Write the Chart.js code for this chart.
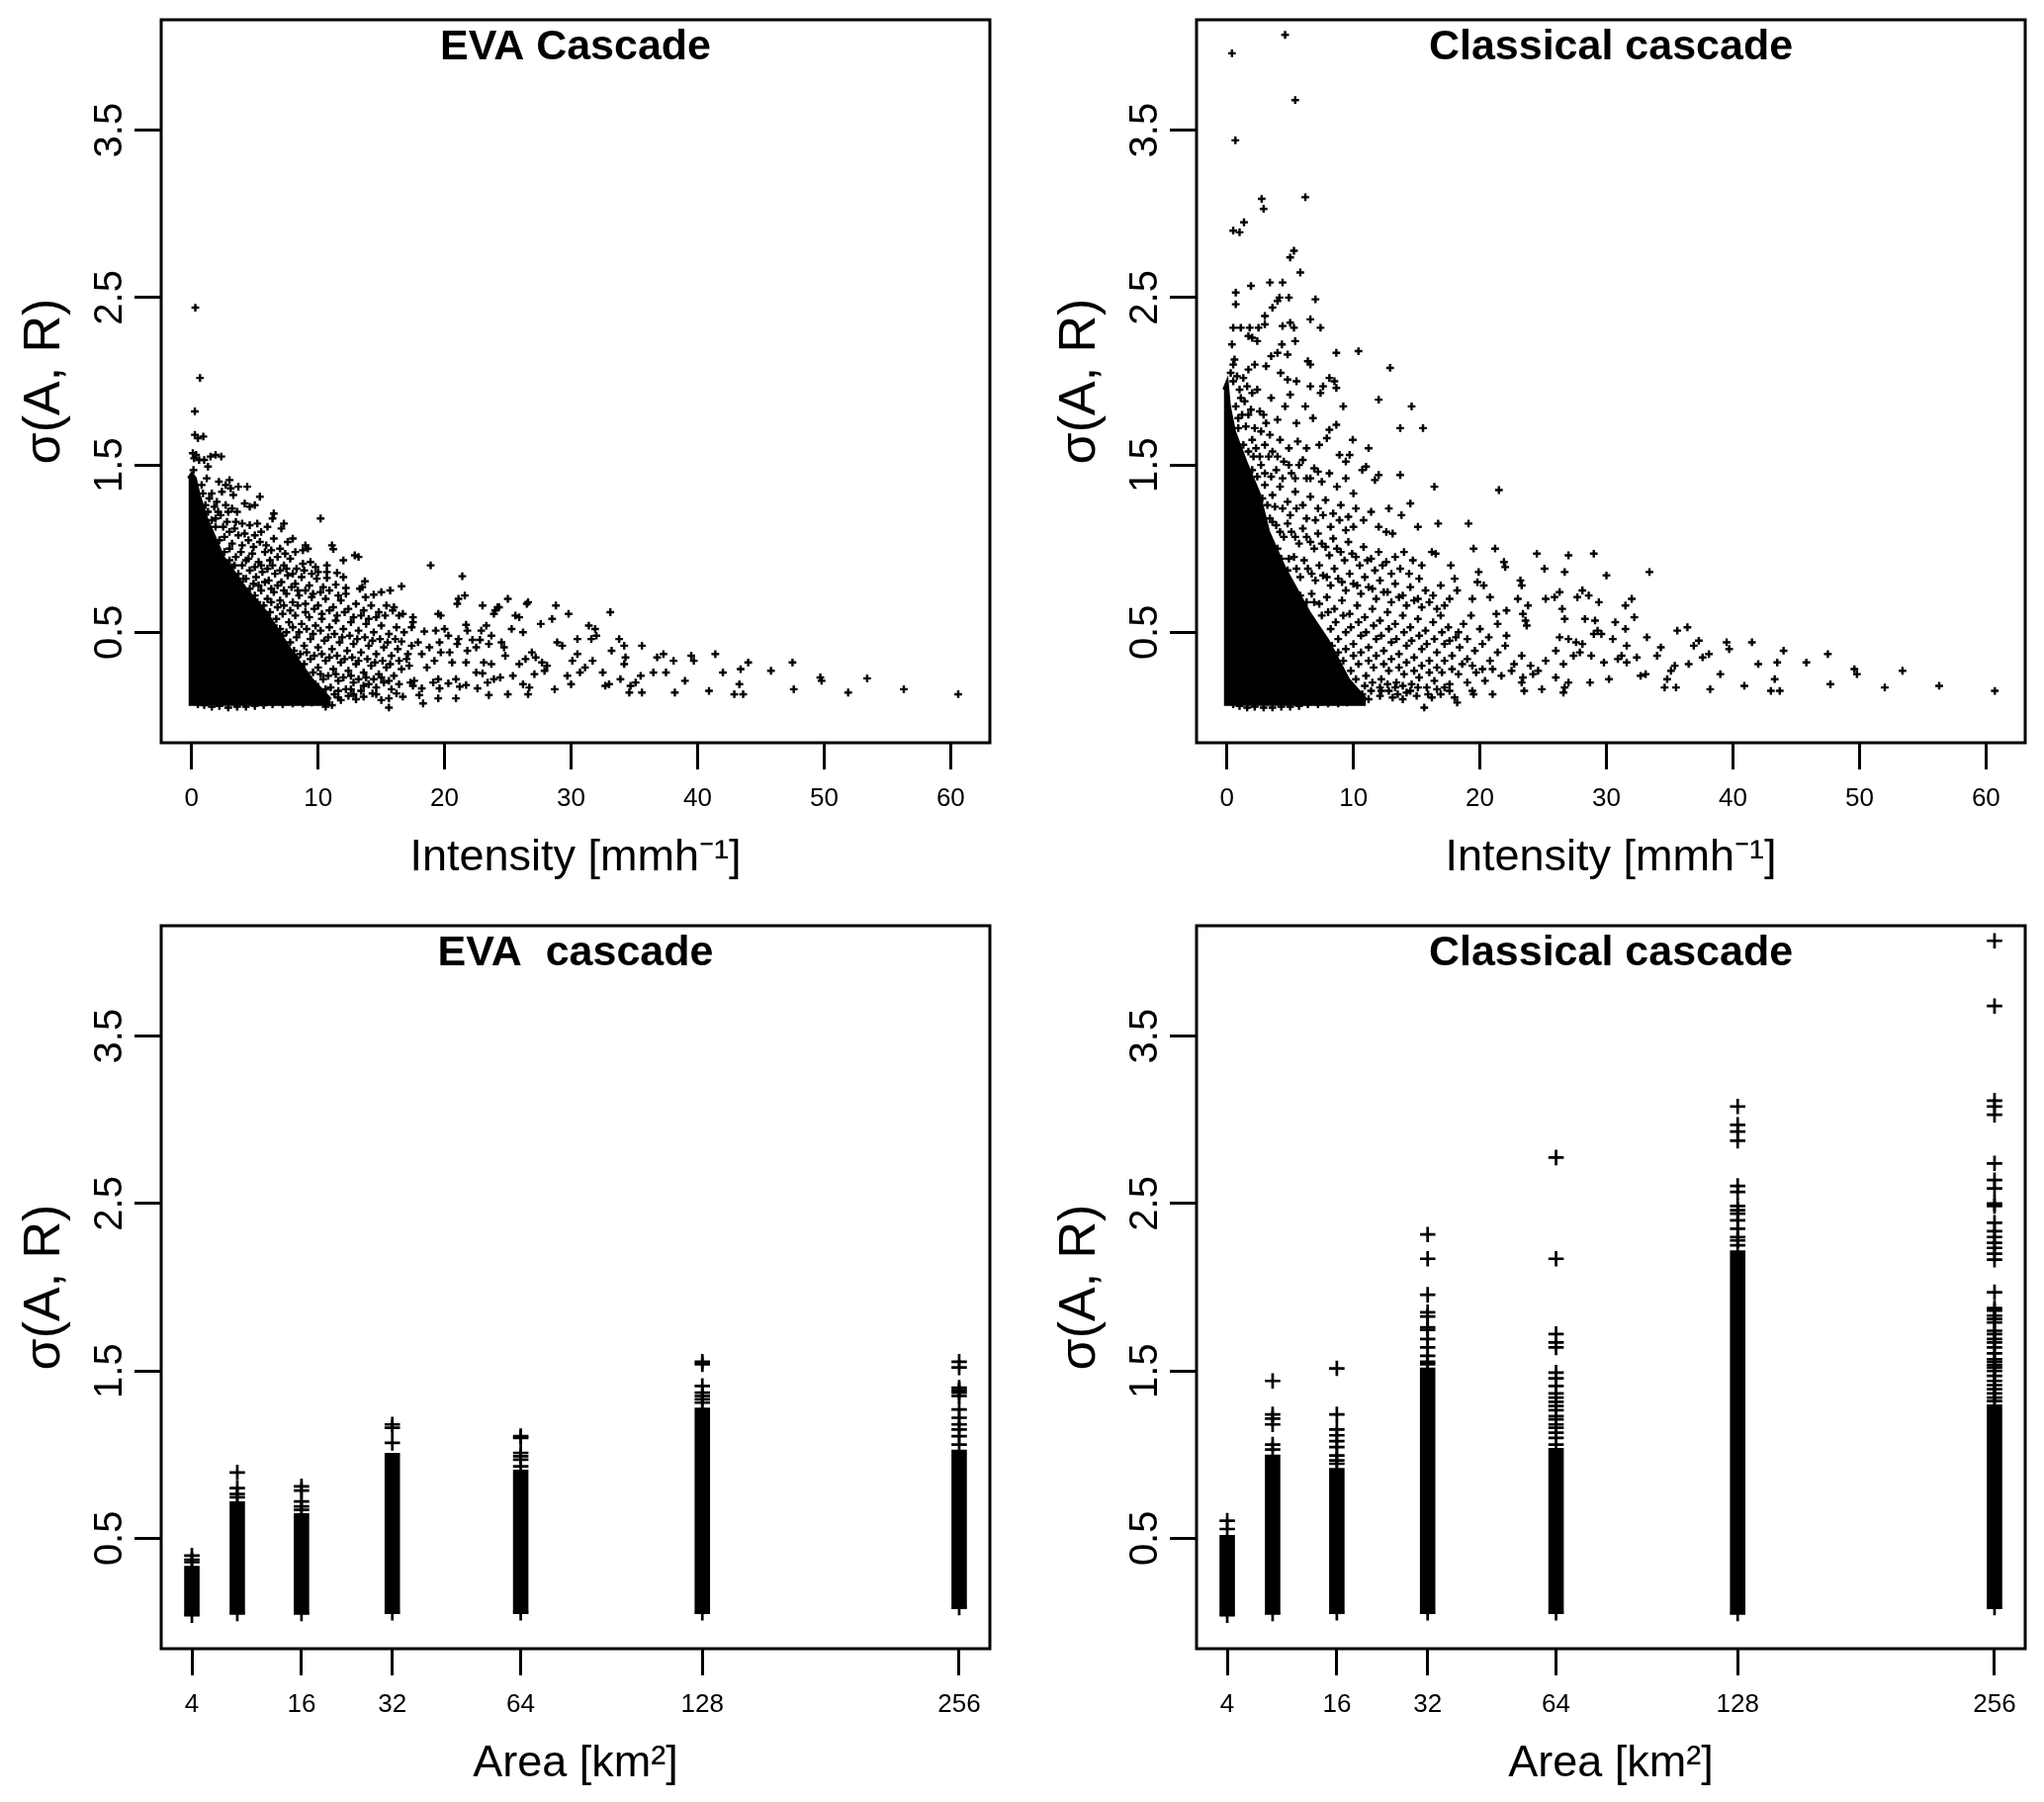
<!DOCTYPE html>
<html>
<head>
<meta charset="utf-8">
<title>sigma vs intensity and area</title>
<script src="https://cdn.jsdelivr.net/npm/chart.js@4"></script>
<style>
  body { margin: 0; background: #fff; }
  canvas { position: absolute; }
</style>
</head>
<body>
<canvas id="evaIntensity" width="1020" height="906" style="left:0;top:0"></canvas>
<canvas id="classicIntensity" width="1020" height="906" style="left:1047px;top:0"></canvas>
<canvas id="evaArea" width="1020" height="906" style="left:0;top:916px"></canvas>
<canvas id="classicArea" width="1020" height="906" style="left:1047px;top:916px"></canvas>
<script>
const sigmaTicks = [0.5, 1.5, 2.5, 3.5];
const intensityTicks = [0, 10, 20, 30, 40, 50, 60];
const areaTicks = [4, 16, 32, 64, 128, 256];
const areas = [4, 8, 16, 32, 64, 128, 256];

// outline of the part of the cloud that is fully overplotted
const evaCore = [[-0.25,1.42],[0.02,1.45],[0.3,1.42],[0.6,1.32],[1.2,1.18],[2.5,0.95],[4.3,0.76],[5.9,0.62],[7.7,0.41],[9.5,0.22],[11,0.1]];
const classicCore = [[-0.25,1.95],[0.02,2.0],[0.2,1.85],[0.6,1.7],[1.5,1.52],[2.55,1.33],[3.3,1.1],[4.6,0.88],[6.5,0.62],[8,0.45],[9.6,0.22],[11,0.1]];

const evaPoints = [
[0.3,2.44],[0.67,2.02],[0.26,1.82],[0.26,1.68],[0.5,1.66],[0.93,1.67],[0.1,1.57],[0.2,1.54],[0.36,1.56],[0.6,1.53],[1,1.53],[1.5,1.55],[1.9,1.56],[2.35,1.55],[1.3,1.49],[0.15,1.47],
[2.16,1.4],[3,1.41],[2.7,1.38],[3.1,1.36],[3.7,1.37],[4.4,1.37],[3.3,1.32],[5.4,1.31],[4.2,1.27],[4.6,1.25],[5,1.26],[2.7,1.26],[2.9,1.22],[1.4,1.3],[1.8,1.25],[2.1,1.22],[0.9,1.33],[1.1,1.26],
[6.5,1.21],[6.4,1.18],[10.2,1.18],[7.3,1.15],[7.1,1.12],[3.5,1.16],[4,1.15],[4.6,1.14],[5.2,1.15],[5.5,1.1],[6,1.13],[2.5,1.13],[3,1.1],[3.7,1.08],[4.5,1.05],[5,1.08],[6.5,1.06],[7.6,1.04],[8,1.06],[8.8,0.99],[9.2,1],[1.6,1.17],[1.9,1.13],[2.2,1.05],
[9,1.02],[11.1,1.02],[11.2,0.997],[12,0.93],[12.9,0.96],[13.2,0.95],[9.4,0.92],[9.8,0.89],[10.7,0.9],[10.7,0.86],[10.7,0.825],[11.5,0.855],[12,0.83],[13.7,0.805],[13.5,0.77],[13.3,0.76],[11.4,0.785],[12.2,0.765],[12.2,0.73],[16.6,0.775],[15.7,0.75],[15,0.74],[14.4,0.725],[13.75,0.71],
[18.9,0.9],[21.4,0.835],[21.6,0.72],[21.1,0.7],[21,0.67],[23,0.66],[24.2,0.65],[23.9,0.61],[15.4,0.66],[16,0.65],[15.9,0.63],[16.7,0.61],[16.4,0.6],[17.5,0.59],[17.5,0.56],[17.4,0.53],[19.5,0.61],[19.7,0.6],[18.4,0.505],[19.3,0.51],[20,0.52],[21.7,0.545],[21.8,0.51],[22.9,0.51],[23.3,0.54],[20.3,0.48],[21.1,0.46],[22.2,0.455],[22.8,0.455],[23.7,0.48],[23.5,0.43],[21,0.43],[19.6,0.44],[18.8,0.41],[16.6,0.445],[17.4,0.42],[17.1,0.37],[18.2,0.37],[19.7,0.38],[20.4,0.38],[21.8,0.39],[20.6,0.32],[21.7,0.32],[23.1,0.32],[23.7,0.31],[22.5,0.41],[19.5,0.22],[19.6,0.165],[19.5,0.105],[20.9,0.105],[18.2,0.165],[18.3,0.075],[15.6,0.05],[18,0.125],[22.6,0.165],[23.5,0.125],[23.9,0.22],[23.4,0.2],[24.4,0.23],[20.3,0.195],[20.9,0.22],[21.2,0.175],[21.7,0.185],[22.5,0.26],[23,0.255],[19.1,0.2],[17.3,0.2],[17.6,0.21],[17.5,0.18],[16.2,0.135],[16.7,0.115],[15.6,0.105],[15,0.095],[14.3,0.135],[13.6,0.115],[13,0.1],[11.8,0.095],[11.1,0.065],[10.6,0.055],[10,0.095],
[2.6,0.98],[3,1],[3.5,0.95],[3.9,0.98],[4.3,0.93],[4.8,0.97],[5.3,0.92],[5.8,0.98],[6.2,0.93],[6.8,0.95],[7.3,0.9],[7.8,0.94],[8.3,0.88],[8.8,0.91],[3.2,0.89],[3.7,0.85],[4.1,0.82],[4.6,0.87],[5.1,0.83],[5.6,0.86],[6.1,0.81],[6.6,0.85],[7.1,0.8],[7.6,0.84],[8.2,0.79],[8.7,0.83],[9.3,0.78],[9.9,0.82],[10.4,0.77],
[4.6,0.76],[5,0.72],[5.5,0.75],[6,0.7],[6.5,0.74],[7,0.69],[7.5,0.73],[8,0.68],[8.5,0.72],[9,0.67],[9.5,0.71],[10,0.66],[10.6,0.7],[11.2,0.65],[11.8,0.69],[12.4,0.64],[13,0.67],[13.6,0.63],[14.2,0.66],[14.8,0.62],
[6.2,0.62],[6.7,0.58],[7.2,0.61],[7.7,0.56],[8.2,0.6],[8.7,0.55],[9.3,0.59],[9.8,0.54],[10.3,0.58],[10.9,0.53],[11.4,0.57],[12,0.52],[12.6,0.56],[13.2,0.51],[13.8,0.55],[14.4,0.5],[15,0.54],[15.6,0.49],[16.2,0.53],[16.8,0.5],
[7.2,0.48],[7.8,0.44],[8.3,0.47],[8.9,0.42],[9.4,0.46],[10,0.41],[10.5,0.45],[11.1,0.4],[11.7,0.44],[12.3,0.39],[12.8,0.43],[13.4,0.38],[14,0.42],[14.6,0.37],[15.2,0.41],[15.8,0.36],[16.3,0.4],[17.9,0.44],
[8.3,0.35],[8.9,0.31],[9.4,0.34],[10,0.29],[10.6,0.33],[11.2,0.28],[11.8,0.32],[12.4,0.27],[13,0.31],[13.6,0.26],[14.2,0.3],[14.8,0.25],[15.4,0.29],[16,0.24],[16.6,0.28],[17.2,0.3],[18.6,0.29],[19.2,0.33],
[9.2,0.23],[9.8,0.19],[10.4,0.22],[11,0.17],[11.6,0.21],[12.2,0.16],[12.8,0.2],[13.4,0.15],[14,0.19],[14.6,0.17],[15.2,0.2],[15.8,0.16],[16.4,0.19],[10.2,0.13],[9.4,0.11],[12.4,0.12],[11.3,0.13],
[0.2,0.09],[0.5,0.07],[1,0.065],[1.6,0.055],[2.2,0.06],[2.9,0.05],[3.6,0.055],[4.3,0.055],[5,0.06],[5.7,0.065],[6.4,0.07],[7.2,0.07],[8,0.075],[8.8,0.075],[9.5,0.08],
[24.7,0.41],[25,0.7],[25.3,0.52],[25.6,0.6],[25.9,0.59],[25.9,0.31],[26.2,0.5],[26.5,0.67],[26.6,0.68],[26.4,0.34],[26.7,0.17],[26.6,0.13],[26.9,0.38],[27.2,0.35],[27.6,0.55],[27.7,0.32],[28.1,0.3],[28.5,0.58],[28.7,0.16],[28.8,0.66],[28.9,0.44],[29.3,0.42],[24,0.63],[24.3,0.65],[25,0.13],[24.5,0.44],[24.8,0.36],[25.4,0.24],[26.2,0.19],[27.1,0.25],[27.9,0.27],[29.8,0.61],[29.7,0.24],[30.1,0.33],[30.5,0.46],[30.5,0.37],[30.7,0.26],[30,0.19],[31.1,0.29],[31.4,0.54],[31.6,0.46],[31.7,0.33],[31.9,0.52],[32,0.48],[32.5,0.26],[32.7,0.18],[33,0.19],[33.1,0.62],[33.2,0.39],[33.8,0.46],[33.9,0.22],[34.2,0.42],[34.3,0.35],[34.2,0.31],[34.6,0.14],[34.7,0.18],[35.1,0.2],[35.5,0.24],[35.6,0.42],[35.6,0.14],[36.5,0.26],[36.8,0.35],[37.3,0.37],[37.5,0.26],[38.1,0.33],[38.2,0.14],[39,0.21],[39.5,0.36],[39.7,0.33],[40.9,0.15],[41.4,0.37],[42,0.26],[42.9,0.13],[43.3,0.19],[43.4,0.28],[43.6,0.13],[44,0.32],[45.8,0.27],[47.5,0.32],[47.6,0.16],[49.7,0.23],[49.8,0.21],[51.9,0.14],[53.4,0.225],[56.3,0.16],[60.6,0.13]
];

// extra marks where the cloud is close to solid
const evaDense = [
[0.8,1.38],[1.2,1.42],[1.6,1.33],[2,1.28],[2.4,1.34],[1.3,1.22],[1.9,1.18],[2.3,1.2],[2.8,1.16],[3.2,1.24],[3.6,1.22],
[2.6,1.07],[3.2,1.03],[3.4,1.12],[4,1.02],[4.2,1.09],[4.9,1.01],[5.4,1.04],[5.9,1.02],[6.3,0.99],[7,1],[7.4,0.97],[8.2,0.98],
[3,0.93],[3.4,0.9],[4,0.9],[4.5,0.94],[5,0.89],[5.5,0.9],[6,0.88],[6.4,0.9],[7,0.87],[7.5,0.88],[8,0.85],[8.9,0.87],[9.5,0.85],[10,0.86],
[3.9,0.78],[4.3,0.82],[4.9,0.79],[5.3,0.78],[5.8,0.8],[6.3,0.76],[6.8,0.78],[7.3,0.75],[7.9,0.77],[8.4,0.75],[9,0.75],[9.6,0.73],[10.2,0.74],[10.9,0.75],[11.6,0.72],
[5.2,0.68],[5.7,0.66],[6.3,0.68],[6.8,0.65],[7.3,0.66],[7.8,0.63],[8.4,0.66],[9,0.62],[9.7,0.64],[10.3,0.61],[10.9,0.63],[11.5,0.6],[12.1,0.62],[12.8,0.59],[13.4,0.6],[14,0.58],[14.6,0.59],[15.3,0.6],
[6.5,0.54],[7,0.52],[7.5,0.5],[8,0.53],[8.5,0.5],[9.1,0.52],[9.6,0.49],[10.2,0.51],[10.8,0.47],[11.3,0.49],[11.9,0.47],[12.5,0.48],[13.1,0.46],[13.7,0.47],[14.3,0.45],[14.9,0.46],[15.5,0.44],[16.1,0.46],
[7.6,0.38],[8.1,0.39],[8.6,0.37],[9.1,0.38],[9.7,0.36],[10.3,0.37],[10.9,0.35],[11.5,0.36],[12.1,0.34],[12.7,0.35],[13.2,0.33],[13.9,0.34],[14.5,0.32],[15.1,0.33],[15.7,0.31],[16.4,0.33],[17,0.34],
[8.6,0.27],[9,0.25],[9.6,0.26],[10.2,0.25],[10.8,0.24],[11.4,0.25],[12,0.23],[12.6,0.24],[13.2,0.22],[13.8,0.23],[14.4,0.22],[15,0.23],[15.6,0.21],[9.8,0.14],[10.6,0.16],[11.6,0.15],[12.8,0.13],[13.6,0.18],[14.6,0.13],[10.6,0.1],[11.6,0.11],[12.6,0.16]
];

const classicPoints = [
[4.6,4.07],[0.4,3.96],[5.4,3.68],[0.67,3.44],[2.75,3.09],[2.9,3.03],[6.2,3.1],[1.35,2.95],[0.5,2.9],[1,2.89],[5.3,2.78],[5,2.74],[5.8,2.65],[1.9,2.57],[3.4,2.59],[4.4,2.59],[0.7,2.53],[7,2.49],[4.9,2.5],[4.15,2.5],[4,2.48],[3.6,2.44],[0.7,2.46],[3,2.39],[6.6,2.37],[5,2.35],[4.4,2.33],[7.4,2.32],[5.3,2.32],[5.4,2.24],[0.5,2.32],[1.1,2.32],[1.8,2.32],[2.5,2.32],[3,2.34],[1.7,2.27],[2,2.26],[2.4,2.24],[0.4,2.22],[4.35,2.22],[4,2.17],[4.8,2.16],[8.65,2.17],[10.4,2.18],[12.9,2.08],[6.4,2.12],[6.6,2.1],[0.5,2.1],[0.6,2.13],[1.7,2.07],[2.2,2.1],[3.5,2.15],[3.1,2.09],[4.25,2.05],[4.8,2.01],[5.5,2],[8.1,2.02],[8.5,2],[8.65,1.96],[7.6,1.97],[7.4,1.93],[6.6,1.97],[12,1.89],[9.2,1.85],[14.6,1.85],[13.7,1.72],[15.5,1.72],
[8.65,1.74],[8.1,1.71],[7.9,1.66],[9.95,1.65],[11.2,1.6],[8.9,1.56],[9.7,1.56],[9.4,1.52],[11,1.49],[10.7,1.47],[12,1.44],[11.7,1.41],[13.7,1.44],[16.4,1.37],[21.5,1.35],[14.5,1.27],[12.8,1.24],[13.8,1.2],[16.7,1.15],[19.1,1.15],[15.1,1.13],[13.1,1.09],[19.5,1],[21.2,1],[24.5,0.97],[27,0.96],[29,0.97],[21.9,0.92],[22,0.89],[17.7,0.9],[16.2,0.98],[16.5,0.97],[25.1,0.88],[26.7,0.86],[30,0.84],[33.4,0.86],[19.9,0.86],[19.8,0.8],[23.2,0.81],[23.3,0.78],[20.3,0.78],[26.3,0.74],[25.9,0.71],[25.2,0.7],[28.1,0.75],[27.7,0.71],[28.6,0.72],[29.4,0.68],[20.8,0.71],[19.4,0.7],[23,0.7],[23.8,0.66],[32,0.7],[31.5,0.66],[22.1,0.63],[21.3,0.61],[23.4,0.61],[23.6,0.57],[23.7,0.54],[26.5,0.64],[26.7,0.58],[28.3,0.58],[29.1,0.57],[30.7,0.56],[32.2,0.59],[29.6,0.49],[29.3,0.51],[31.5,0.52],[26.3,0.47],[27.6,0.44],[28.1,0.43],[27,0.46],
[1,1.95],[1.4,1.88],[1.9,1.83],[2.4,1.95],[2.9,1.8],[3.5,1.9],[4,1.77],[4.6,1.85],[5,1.92],[5.5,1.75],[6.2,1.85],[6.8,1.78],[7.3,1.62],[6.3,1.6],[5.6,1.64],[4.9,1.6],[4.2,1.65],[3.4,1.68],[2.7,1.7],[2,1.65],[1.5,1.73],[0.9,1.78],
[2.1,1.55],[2.7,1.5],[3.3,1.55],[3.9,1.47],[4.5,1.52],[5.1,1.45],[5.7,1.5],[6.3,1.42],[6.9,1.48],[7.5,1.4],[8.1,1.45],[8.7,1.37],[9.4,1.42],[10,1.33],[3,1.38],[3.6,1.32],[4.2,1.37],[4.8,1.28],[5.4,1.34],[6,1.26],[6.6,1.31],[7.2,1.24],[7.8,1.29],[8.4,1.21],[9,1.26],[9.6,1.19],[10.2,1.24],[10.8,1.17],[11.4,1.22],[12,1.13],[12.6,1.1],
[3.6,1.16],[4.2,1.1],[4.8,1.15],[5.4,1.07],[6,1.12],[6.6,1.04],[7.2,1.09],[7.8,1.01],[8.4,1.06],[9,0.98],[9.6,1.04],[10.2,0.95],[10.8,1.01],[11.4,0.94],[12,0.98],[12.6,0.92],[13.3,0.95],[14,0.98],[14.7,0.93],[15.4,0.9],[4.9,0.94],[5.5,0.88],[6.1,0.93],[6.7,0.85],[7.3,0.9],[7.9,0.83],[8.5,0.88],[9.1,0.8],[9.7,0.85],[10.3,0.78],[10.9,0.83],[11.5,0.76],[12.1,0.81],[12.7,0.74],[13.3,0.79],[13.9,0.72],[14.5,0.77],[15.1,0.7],[15.7,0.75],[16.3,0.72],[16.9,0.78],[17.6,0.7],[18.2,0.75],[18,0.82],[15.2,0.82],
[6.7,0.73],[7.3,0.67],[7.9,0.71],[8.5,0.64],[9.1,0.69],[9.7,0.61],[10.3,0.66],[10.9,0.59],[11.5,0.64],[12.1,0.57],[12.7,0.62],[13.3,0.55],[13.9,0.6],[14.5,0.53],[15.1,0.58],[15.7,0.51],[16.3,0.56],[16.9,0.6],[17.5,0.53],[18.1,0.47],[18.7,0.55],[19.3,0.6],[20,0.52],[20.7,0.47],[21.4,0.55],[22.1,0.48],
[8.2,0.52],[8.8,0.46],[9.4,0.5],[10,0.43],[10.6,0.48],[11.2,0.41],[11.8,0.46],[12.4,0.39],[13,0.44],[13.6,0.37],[14.2,0.42],[14.8,0.35],[15.4,0.4],[16,0.33],[16.6,0.38],[17.2,0.43],[17.8,0.36],[18.4,0.41],[19,0.34],[19.6,0.39],[20.2,0.43],[20.8,0.33],[21.4,0.38],[22,0.42],[22.7,0.31],[23.3,0.36],[24,0.3],[24.6,0.27],[25.2,0.33],[26,0.39],[26.6,0.31],[27.4,0.36],
[9.2,0.33],[9.8,0.27],[10.4,0.31],[11,0.24],[11.6,0.29],[12.2,0.22],[12.8,0.27],[13.4,0.2],[14,0.25],[14.6,0.19],[15.2,0.23],[15.8,0.17],[16.4,0.21],[17,0.26],[17.6,0.19],[18.3,0.25],[19,0.2],[19.7,0.26],[20.4,0.21],[21,0.28],[21.7,0.24],[22.5,0.27],[23.4,0.23],[24.2,0.25],
[10,0.16],[10.7,0.13],[11.4,0.15],[12.1,0.12],[12.8,0.15],[13.5,0.13],[14.2,0.14],[15,0.12],[15.6,0.05],[16.2,0.11],[16.9,0.13],[17.6,0.15],[18.2,0.08],[18,0.11],[19.5,0.13],[19.4,0.15],[21,0.13],[23.3,0.2],[24.9,0.16],[23.5,0.15],[26.6,0.14],[26.7,0.17],[28.7,0.2],[26,0.23],[27,0.2],
[0.2,0.09],[0.5,0.07],[1,0.06],[1.6,0.05],[2.2,0.055],[2.9,0.05],[3.6,0.05],[4.3,0.055],[5,0.055],[5.7,0.06],[6.4,0.07],[7.2,0.07],[8,0.075],[8.8,0.075],[9.5,0.08],
[27.9,0.38],[28.8,0.36],[29,0.49],[29.8,0.32],[30.2,0.22],[30.5,0.46],[30.9,0.34],[31.2,0.36],[31.6,0.32],[31.6,0.42],[32.7,0.24],[32.4,0.35],[33.2,0.47],[33.1,0.25],[34,0.36],[34.3,0.41],[34.6,0.17],[34.8,0.22],[35.1,0.27],[35.4,0.3],[35.5,0.17],[35.6,0.51],[36.4,0.53],[36.5,0.31],[36.9,0.42],[37.3,0.45],[37.6,0.35],[38.1,0.37],[38.2,0.16],[39,0.25],[39.5,0.44],[39.7,0.4],[40.9,0.18],[41.5,0.44],[42,0.31],[43,0.15],[43.3,0.22],[43.5,0.32],[43.7,0.15],[44,0.39],[45.8,0.32],[47.5,0.37],[47.7,0.19],[49.6,0.28],[49.8,0.25],[52,0.17],[53.4,0.27],[56.3,0.18],[60.7,0.15]
];

const classicDense = [
[0.3,2.05],[0.5,2],[0.8,2.03],[1.1,1.9],[0.7,1.85],[1.3,2.02],[1.6,1.97],[2,1.93],[0.9,1.72],[1.2,1.8],[1.7,1.8],[2.2,1.72],[2.6,1.82],[3.1,1.75],
[1.3,1.62],[1.7,1.58],[2.3,1.6],[2.6,1.55],[3,1.62],[3.6,1.58],[2,1.47],[2.4,1.43],[3,1.45],[3.5,1.43],[4,1.55],[4.4,1.42],[4.9,1.5],[5.4,1.42],[6,1.53],[6.6,1.42],[7.2,1.46],
[2.8,1.3],[3.2,1.26],[3.8,1.25],[4.4,1.24],[5,1.2],[5.5,1.24],[6.3,1.18],[7,1.17],[7.6,1.2],[8.2,1.13],[8.9,1.17],[9.4,1.11],[10,1.13],[3.4,1.18],[3.9,1.14],[4.5,1.07],[5.1,1.1],[5.7,1.03],[6.3,1.07],[6.9,1],[7.5,1.03],[8.1,0.96],[8.7,1],[9.3,0.93],[9.9,0.97],[10.5,0.9],[11.1,0.93],[11.7,0.87],[12.3,0.9],[13,0.85],[13.7,0.88],[14.4,0.85],
[4,1],[4.3,0.94],[4.8,0.87],[5.3,0.95],[5.8,0.83],[6.4,0.88],[7,0.81],[7.6,0.84],[8.2,0.78],[8.8,0.82],[9.4,0.75],[10,0.79],[10.6,0.73],[11.2,0.77],[11.8,0.7],[12.4,0.74],[13,0.68],[13.6,0.71],[14.2,0.66],[14.8,0.69],[15.4,0.65],[16,0.68],[16.6,0.64],[17.2,0.66],
[5.8,0.72],[6.3,0.68],[6.9,0.68],[7.5,0.6],[8,0.62],[8.6,0.56],[9.2,0.6],[9.8,0.53],[10.4,0.56],[11,0.5],[11.6,0.54],[12.2,0.48],[12.8,0.52],[13.4,0.46],[14,0.5],[14.6,0.45],[15.2,0.48],[15.8,0.43],[16.4,0.46],[17,0.5],[17.6,0.45],[18.3,0.5],[19,0.46],
[7.7,0.44],[8.3,0.42],[8.8,0.38],[9.4,0.4],[10,0.36],[10.6,0.38],[11.2,0.33],[11.8,0.36],[12.4,0.31],[13,0.34],[13.6,0.29],[14.2,0.32],[14.8,0.27],[15.4,0.3],[16,0.26],[16.6,0.29],[17.2,0.33],[17.8,0.28],[18.6,0.31],[19.4,0.3],[20.2,0.28],
[9,0.2],[9.6,0.18],[10.2,0.22],[10.9,0.18],[11.5,0.2],[12.1,0.17],[12.7,0.19],[13.3,0.17],[13.9,0.18],[14.5,0.15],[15.1,0.17],[15.9,0.13],[16.6,0.16],[17.2,0.17],[10.4,0.11],[11.2,0.1],[12.2,0.15],[13.1,0.11],[13.9,0.1]
];

// solid part of each area column: lowest value and top of the solid bar
const evaColumnLow = [0.04, 0.05, 0.05, 0.055, 0.055, 0.055, 0.085];
const evaColumnTop = [0.335, 0.72, 0.65, 1.01, 0.91, 1.28, 1.03];
const classicColumnLow = [0.04, 0.05, 0.055, 0.055, 0.055, 0.05, 0.085];
const classicColumnTop = [0.52, 1.0, 0.92, 1.52, 1.04, 2.22, 1.3];

// separate marks above the solid bars, one list per area
const evaColumnMarks = [
  [0.04, 0.357, 0.372, 0.396],
  [0.05, 0.745, 0.765, 0.8, 0.893],
  [0.05, 0.67, 0.69, 0.72, 0.785, 0.81],
  [0.055, 1.07, 1.16, 1.18],
  [0.055, 0.93, 0.97, 0.99, 1.01, 1.1, 1.11],
  [0.055, 1.31, 1.33, 1.35, 1.37, 1.41, 1.54, 1.555],
  [0.085, 1.06, 1.11, 1.15, 1.18, 1.22, 1.27, 1.35, 1.37, 1.385, 1.4, 1.52, 1.555]
];
const classicColumnMarks = [
  [0.04, 0.555, 0.605],
  [0.05, 1.03, 1.06, 1.18, 1.215, 1.24, 1.44],
  [0.055, 0.945, 0.965, 0.995, 1.045, 1.08, 1.115, 1.15, 1.24, 1.515],
  [0.055, 1.54, 1.555, 1.59, 1.64, 1.69, 1.745, 1.76, 1.825, 1.85, 1.955, 2.17, 2.315],
  [0.055, 1.06, 1.1, 1.13, 1.16, 1.18, 1.21, 1.23, 1.265, 1.29, 1.315, 1.34, 1.365, 1.41, 1.455, 1.49, 1.64, 1.67, 1.72, 2.17, 2.775],
  [0.05, 2.25, 2.28, 2.3, 2.35, 2.4, 2.44, 2.46, 2.485, 2.57, 2.605, 2.875, 2.93, 2.97, 3.08],
  [0.085, 1.32, 1.34, 1.365, 1.39, 1.415, 1.44, 1.47, 1.5, 1.52, 1.535, 1.555, 1.57, 1.605, 1.64, 1.67, 1.69, 1.72, 1.74, 1.79, 1.81, 1.83, 1.86, 1.875, 1.97, 2.165, 2.2, 2.235, 2.265, 2.3, 2.335, 2.385, 2.485, 2.5, 2.59, 2.64, 2.74, 3.03, 3.08, 3.115, 3.68, 4.07]
];

const boxBorder = {
  id: 'boxBorder',
  afterDraw(chart) {
    const { ctx, chartArea: a } = chart;
    ctx.save();
    ctx.strokeStyle = '#000';
    ctx.lineWidth = 3;
    ctx.strokeRect(a.left, a.top, a.right - a.left, a.bottom - a.top);
    ctx.restore();
  }
};

const FONT = '"Liberation Sans", Arial, sans-serif';

function drawPanel(id, title, xLabel, datasets, xOpts) {
  new Chart(document.getElementById(id), {
    type: 'scatter',
    data: { datasets },
    plugins: [boxBorder],
    options: {
      responsive: false,
      animation: false,
      layout: { padding: { top: 18, right: 19, left: 0, bottom: 0 } },
      plugins: {
        legend: { display: false },
        tooltip: { enabled: false },
        title: {
          display: true,
          fullSize: false,
          text: title,
          color: '#000',
          font: { family: FONT, size: 43, weight: 'bold' },
          padding: { top: 2, bottom: -53.6 }
        }
      },
      scales: {
        x: {
          type: 'linear',
          min: xOpts.min,
          max: xOpts.max,
          afterFit: s => { s.height = 155; },
          afterBuildTicks: s => { s.ticks = xOpts.ticks.map(v => ({ value: v })); },
          border: { display: false },
          grid: { drawOnChartArea: false, drawTicks: true, tickLength: 27, tickWidth: 3, tickColor: '#000' },
          ticks: {
            autoSkip: false,
            maxRotation: 0,
            color: '#000',
            padding: 14,
            font: { family: FONT, size: 26 },
            callback: xOpts.label
          },
          title: {
            display: true,
            text: xLabel,
            color: '#000',
            font: { family: FONT, size: 45 },
            padding: { top: 0, bottom: 11 }
          }
        },
        y: {
          min: -0.16,
          max: 4.16,
          afterFit: s => { s.width = 163; },
          afterBuildTicks: s => { s.ticks = sigmaTicks.map(v => ({ value: v })); },
          border: { display: false },
          grid: { drawOnChartArea: false, drawTicks: true, tickLength: 27, tickWidth: 3, tickColor: '#000' },
          ticks: {
            autoSkip: false,
            minRotation: 90,
            maxRotation: 90,
            crossAlign: 'center',
            color: '#000',
            padding: -4,
            font: { family: FONT, size: 40 },
            callback: v => v.toFixed(1)
          },
          title: {
            display: true,
            text: 'σ(A, R)',
            color: '#000',
            font: { family: FONT, size: 52 },
            padding: { top: 14, bottom: 0 }
          }
        }
      }
    }
  });
}

function intensityData(core, points, dense) {
  return [
    {
      data: core.map(([x, y]) => ({ x, y })),
      showLine: true,
      fill: { value: 0.06 },
      backgroundColor: '#000',
      borderColor: '#000',
      borderWidth: 3,
      pointRadius: 0
    },
    {
      data: points.concat(dense).map(([x, y]) => ({ x, y })),
      pointStyle: 'cross',
      pointRadius: 3.9,
      pointBorderWidth: 2.4,
      borderColor: '#000',
      backgroundColor: '#000'
    }
  ];
}

// the area axis runs on the side length of the box, so x is sqrt(area)
function areaData(low, top, marks) {
  const bars = areas.map((a, i) => ({
    data: [{ x: Math.sqrt(a), y: low[i] }, { x: Math.sqrt(a), y: top[i] }],
    showLine: true,
    borderColor: '#000',
    borderWidth: 15.6,
    pointRadius: 0
  }));
  const crosses = {
    data: areas.flatMap((a, i) => marks[i].map(y => ({ x: Math.sqrt(a), y }))),
    pointStyle: 'cross',
    pointRadius: 7.8,
    pointBorderWidth: 2.7,
    borderColor: '#000',
    backgroundColor: '#000'
  };
  return [...bars, crosses];
}

const intensityAxis = { min: -2.4, max: 63.1, ticks: intensityTicks, label: v => String(v) };
const areaAxis = {
  min: 1.44,
  max: 16.56,
  ticks: areaTicks.map(Math.sqrt),
  label: v => String(Math.round(v * v))
};

drawPanel('evaIntensity', 'EVA Cascade', 'Intensity [mmh⁻¹]', intensityData(evaCore, evaPoints, evaDense), intensityAxis);
drawPanel('classicIntensity', 'Classical cascade', 'Intensity [mmh⁻¹]', intensityData(classicCore, classicPoints, classicDense), intensityAxis);
drawPanel('evaArea', 'EVA  cascade', 'Area [km²]', areaData(evaColumnLow, evaColumnTop, evaColumnMarks), areaAxis);
drawPanel('classicArea', 'Classical cascade', 'Area [km²]', areaData(classicColumnLow, classicColumnTop, classicColumnMarks), areaAxis);
</script>
</body>
</html>
